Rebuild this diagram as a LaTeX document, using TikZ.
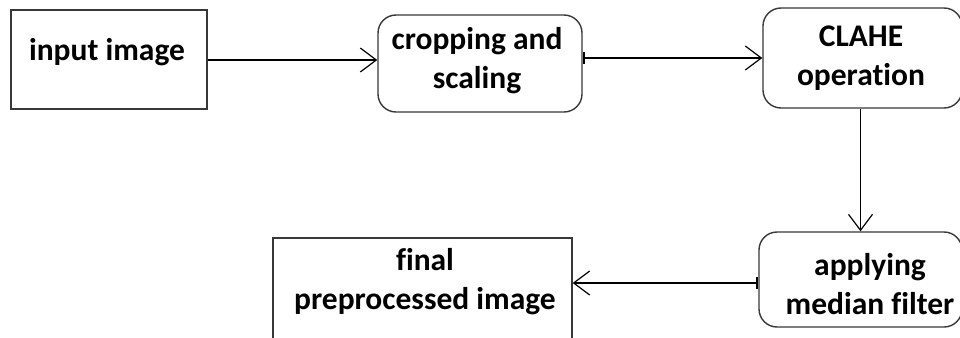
\documentclass[tikz,border=0pt]{standalone}
\usepackage{fontspec}
\setmainfont[Ligatures={NoCommon},Contextuals={NoAlternate}]{Carlito}
\usetikzlibrary{arrows.meta,calc}
\begin{document}
\begin{tikzpicture}[x=1pt,y=-1pt,
  boxline/.style={draw=black!78, line width=1.4pt},
  plainbox/.style={boxline, rectangle, inner sep=0pt},
  roundbox/.style={boxline, rectangle, rounded corners=18pt, inner sep=0pt},
  lbl/.style={font=\fontsize{31.5}{39}\selectfont\bfseries, align=center, inner sep=0pt, text=black},
  flow/.style={draw=black, line width=1.3pt, -{Straight Barb[length=16pt,width=24pt,line width=1.2pt]}},
  flowbar/.style={draw=black, line width=1.3pt, {Bar[width=12pt,line width=2pt]}-{Straight Barb[length=16pt,width=24pt,line width=1.2pt]}}
]
\useasboundingbox (0,0) rectangle (960,337);
\clip (0,0) rectangle (960,337);

% process boxes
\node[plainbox, minimum width=196pt, minimum height=99pt] (inp) at (109,59.5) {};
\node[roundbox, minimum width=204pt, minimum height=97pt] (crop) at (480,63.5) {};
\node[roundbox, minimum width=199pt, minimum height=100pt] (clahe) at (862.5,58) {};
\node[roundbox, minimum width=203pt, minimum height=95pt] (median) at (860.5,279.5) {};
\node[plainbox, minimum width=299pt, minimum height=110pt] (final) at (422.5,293) {};

% box texts
\node[lbl] (tinp) at (107,52) {input image};
\node[lbl] (tcrop) at (477,61) {cropping and\\scaling};
\node[lbl] (tclahe) at (861,58) {CLAHE\\operation};
\node[lbl] (tmedian) at (870,284) {applying\\median filter};
\node[lbl] (tfinal) at (425,282) {final\\preprocessed image};

% connectors
\coordinate (a1) at ($(inp.east)+(0,0.5)$);
\draw[flow] (a1) -- (a1 -| crop.west);
\coordinate (a2) at ($(clahe.west)$);
\draw[flowbar] (a2 -| crop.east) -- (a2);
\draw[flow] (clahe.south -| median.north) -- (median.north);
\coordinate (a4) at ($(median.west)+(0,3.5)$);
\draw[flowbar] (a4) -- (a4 -| final.east);
\end{tikzpicture}
\end{document}
